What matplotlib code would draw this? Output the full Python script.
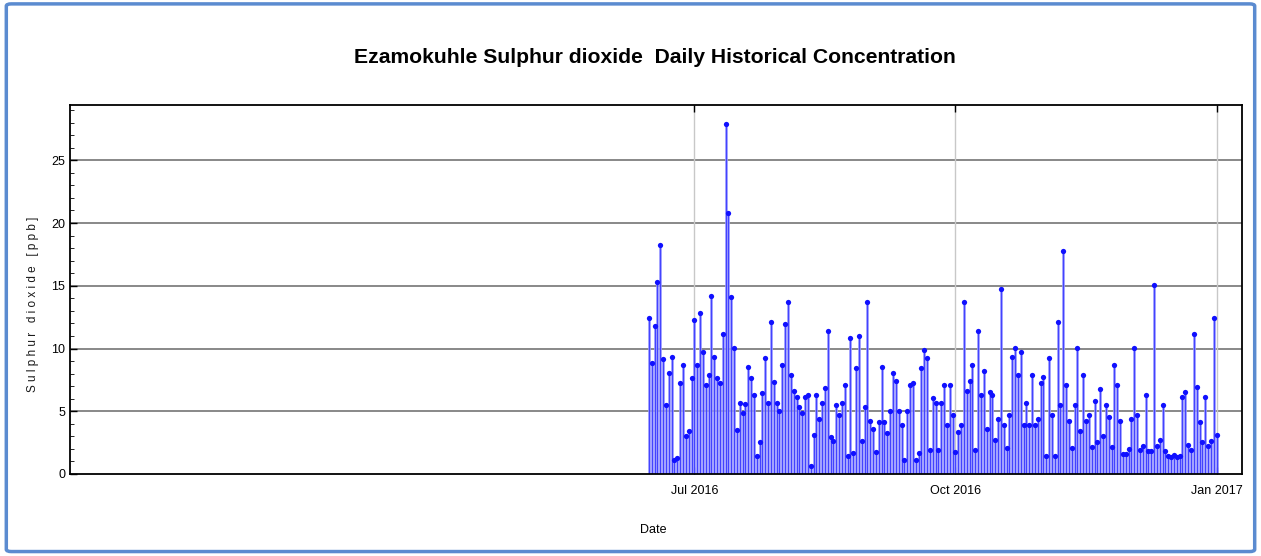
import numpy as np
import pandas as pd
import matplotlib
matplotlib.use('Agg')
import matplotlib.pyplot as plt
import matplotlib.dates as mdates
from matplotlib.patches import FancyBboxPatch
from matplotlib.ticker import MultipleLocator

# daily SO2 readings [ppb], 15 Jun 2016 .. 1 Jan 2017
start_date = '2016-06-15'
so2 = [
    12.45, 8.85, 11.76, 15.33, 18.27, 9.2, 5.5, 8.05, 9.36, 1.12, 1.25, 7.28, 8.72, 3.04, 3.39, 7.63,
    12.3, 8.72, 12.8, 9.73, 7.09, 7.92, 14.21, 9.36, 7.63, 7.28, 11.12, 27.9, 20.8, 14.1, 10.05, 3.5,
    5.65, 4.83, 5.57, 8.56, 7.63, 6.29, 1.44, 2.56, 6.45, 9.23, 5.63, 12.13, 7.31, 5.63, 5.04,
    8.72, 11.92, 13.73, 7.92, 6.64, 6.11, 5.36, 4.85, 6.16, 6.29, 0.64, 3.09, 6.29, 4.37, 5.63,
    6.83, 11.36, 2.96, 2.64, 5.47, 4.69, 5.65, 7.09, 1.44, 10.8, 1.65, 8.45, 10.99, 2.59, 5.36,
    13.73, 4.19, 3.55, 1.79, 4.16, 8.56, 4.16, 3.23, 5.01, 8.05, 7.39, 5.01, 3.89, 1.12, 5.01,
    7.09, 7.25, 1.12, 1.65, 8.43, 9.89, 9.23, 1.92, 6.05, 5.65, 1.92, 5.65, 7.09, 3.89, 7.09, 4.69,
    1.79, 3.36, 3.89, 13.73, 6.64, 7.39, 8.72, 1.92, 11.36, 6.29, 8.24, 3.57, 6.51, 6.29, 2.72,
    4.37, 14.72, 3.89, 2.11, 4.69, 9.36, 10.05, 7.89, 9.71, 3.89, 5.63, 3.89, 7.89, 3.89, 4.37,
    7.25, 7.76, 1.44, 9.23, 4.69, 1.44, 12.1, 5.49, 17.8, 7.12, 4.19, 2.11, 5.49, 10.05, 3.39,
    7.89, 4.19, 4.69, 2.16, 5.79, 2.56, 6.77, 3.04, 5.49, 4.51, 2.16, 8.72, 7.12, 4.19, 1.6, 1.6,
    2.0, 4.37, 10.05, 4.7, 1.9, 2.2, 6.3, 1.8, 1.8, 15.04, 2.2, 2.7, 5.5, 1.84, 1.44, 1.36, 1.49,
    1.36, 1.44, 6.11, 6.51, 2.32, 1.89, 11.12, 6.96, 4.16, 2.56, 6.16, 2.24, 2.64, 12.43, 3.09,
]
dates = pd.date_range(start_date, periods=len(so2), freq='D')

tick_dates = pd.to_datetime(['2016-07-01', '2016-10-01', '2017-01-01'])
tick_labels = ['Jul 2016', 'Oct 2016', 'Jan 2017']

plt.rcParams['font.family'] = ['Liberation Sans', 'DejaVu Sans']

fig = plt.figure(figsize=(12.61, 5.56), dpi=100)
ax = fig.add_axes([0.0555, 0.1475, 0.9295, 0.6635])

# frame around the whole picture
fig.patches.append(FancyBboxPatch((0.005, 0.008), 0.99, 0.985, boxstyle='round,pad=0,rounding_size=0.004',
                                  transform=fig.transFigure, fill=False, edgecolor='#5b8bd0', linewidth=2.5))

# stems drawn wide and light so they merge into a filled look, as in the original
ax.vlines(dates, 0, so2, color='#9090ff', linewidth=1.9)
ax.vlines(dates, 0, so2, color='#3535ff', linewidth=0.6)
ax.plot(dates, so2, 'o', color='#1010ff', markersize=3.8, markeredgewidth=0)

ax.set_xlim(pd.Timestamp('2015-11-24'), pd.Timestamp('2017-01-10'))
ax.set_ylim(0, 29.4)

ax.set_xticks(tick_dates)
ax.set_xticklabels(tick_labels)
ax.yaxis.set_major_locator(MultipleLocator(5))
ax.yaxis.set_minor_locator(MultipleLocator(1))
ax.tick_params(axis='both', direction='in', labelsize=9, length=5, width=1, top=True)
ax.tick_params(axis='y', which='minor', direction='in', length=3)
ax.tick_params(axis='x', pad=8)

for y in range(5, 30, 5):
    ax.axhline(y, color='#7f7f7f', linewidth=1.3, zorder=0)
for d in tick_dates:
    ax.axvline(d, color='#c8c8c8', linewidth=1.0, zorder=0)

for s in ax.spines.values():
    s.set_linewidth(1.3)

fig.text(0.519, 0.896, 'Ezamokuhle Sulphur dioxide  Daily Historical Concentration',
         ha='center', va='center', fontsize=15.2, fontweight='bold')
fig.text(0.026, 0.453, 'S u l p h u r   d i o x i d e   [ p p b ]', rotation=90,
         ha='center', va='center', fontsize=8.5, color='#1a1a1a')
fig.text(0.518, 0.047, 'Date', ha='center', va='center', fontsize=9)

fig.savefig('out.png', dpi=100)
